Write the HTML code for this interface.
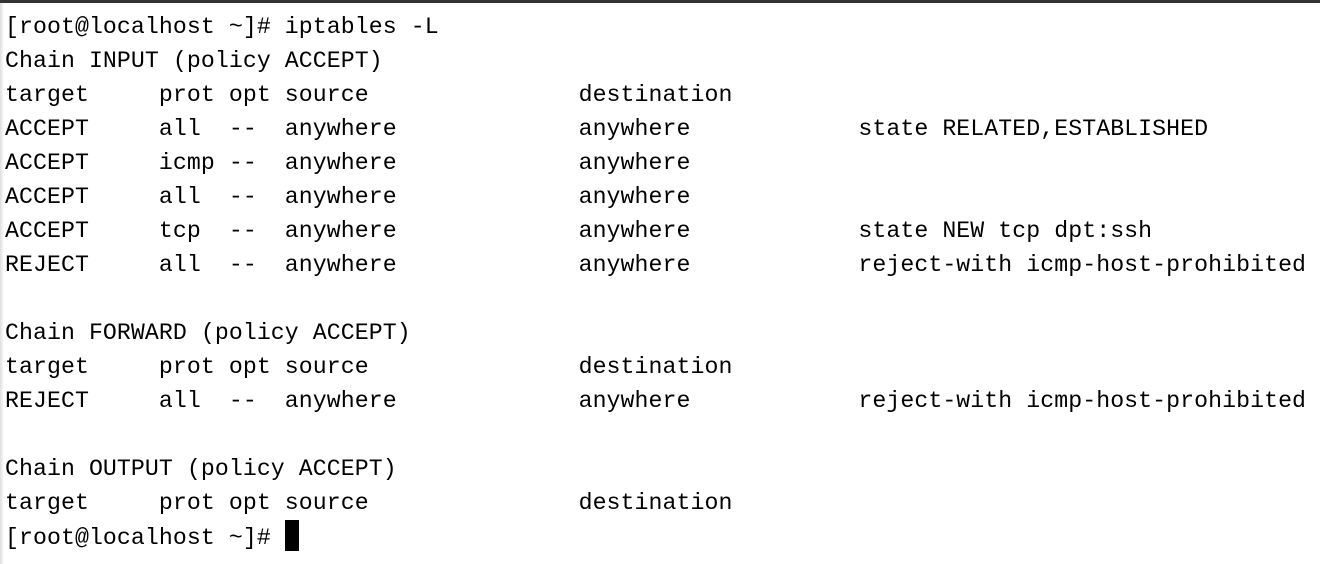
<!DOCTYPE html>
<html><head><style>
html,body{margin:0;padding:0;background:#fff;}
body{width:1320px;height:564px;overflow:hidden;position:relative;}
.bar{position:absolute;left:0;top:0;width:1320px;height:3px;background:#333;}
.side{position:absolute;left:0;top:3px;width:4px;height:561px;background:linear-gradient(90deg,#ddd,#fff);}
pre{position:absolute;left:5px;top:10px;margin:0;font-family:"Liberation Mono","DejaVu Sans Mono",monospace;font-size:23.2px;line-height:34px;color:#000;letter-spacing:0.075px;}
.cur{display:inline-block;width:14px;height:31px;background:#000;vertical-align:-7px;}
</style></head><body>
<div class="bar"></div><div class="side"></div>
<pre>[root@localhost ~]# iptables -L
Chain INPUT (policy ACCEPT)
target     prot opt source               destination
ACCEPT     all  --  anywhere             anywhere            state RELATED,ESTABLISHED
ACCEPT     icmp --  anywhere             anywhere
ACCEPT     all  --  anywhere             anywhere
ACCEPT     tcp  --  anywhere             anywhere            state NEW tcp dpt:ssh
REJECT     all  --  anywhere             anywhere            reject-with icmp-host-prohibited

Chain FORWARD (policy ACCEPT)
target     prot opt source               destination
REJECT     all  --  anywhere             anywhere            reject-with icmp-host-prohibited

Chain OUTPUT (policy ACCEPT)
target     prot opt source               destination
[root@localhost ~]# <span class="cur"></span></pre>
</body></html>
